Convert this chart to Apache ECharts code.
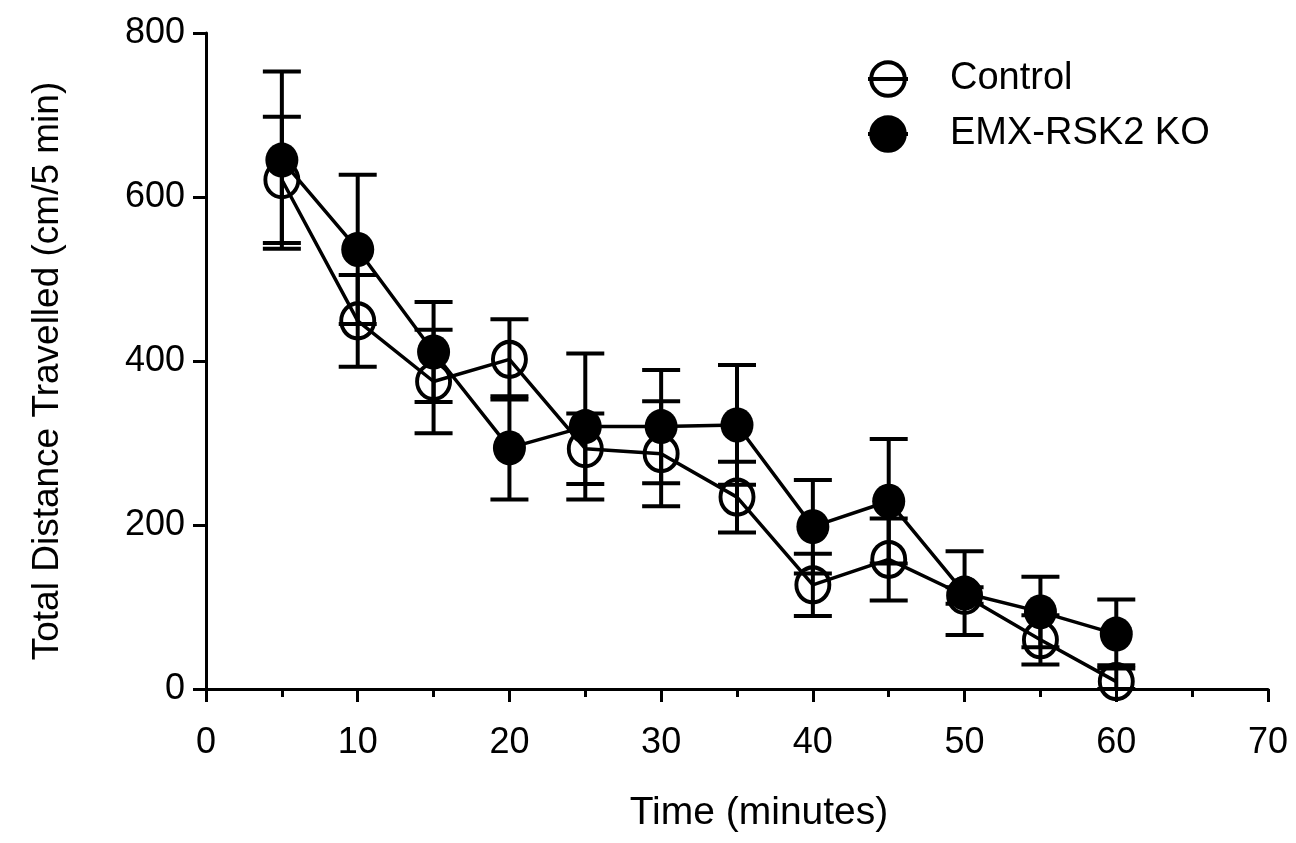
<!DOCTYPE html>
<html>
<head>
<meta charset="utf-8">
<script src="https://cdn.jsdelivr.net/npm/echarts@6/dist/echarts.min.js"></script>
<style>
html,body{margin:0;padding:0;background:#fff;}
#chart{width:1296px;height:843px;}
</style>
</head>
<body>
<div id="chart"></div>
<script>
const time = [5, 10, 15, 20, 25, 30, 35, 40, 45, 50, 55, 60];
const controlMean = [621, 449, 375, 402, 293, 287, 234, 127, 158, 114, 60, 9];
const controlSEM  = [77, 56, 63, 49, 43, 64, 43, 38, 50, 10, 30, 20];
const koMean = [645, 536, 411, 294, 320, 320, 322, 198, 229, 117, 94, 67];
const koSEM  = [108, 91, 61, 63, 89, 69, 73, 57, 76, 51, 43, 42];
const xTicks = [0, 10, 20, 30, 40, 50, 60, 70];
const yTicks = [0, 200, 400, 600, 800];
const seriesNames = ['Control', 'EMX-RSK2 KO'];

const FONT = "'Liberation Sans', Arial, Helvetica, sans-serif";

function errData(mean, sem) {
  return time.map((t, i) => [t, mean[i], sem[i]]);
}
function renderErr(params, api) {
  const x = api.value(0), m = api.value(1), s = api.value(2);
  const top = api.coord([x, m + s]);
  const bot = api.coord([x, Math.max(m - s, yTicks[0])]);
  const half = 19;
  const st = { stroke: '#000', lineWidth: 4, fill: null };
  return {
    type: 'group',
    children: [
      { type: 'line', shape: { x1: top[0], y1: top[1], x2: bot[0], y2: bot[1] }, style: st },
      { type: 'line', shape: { x1: top[0] - half, y1: top[1], x2: top[0] + half, y2: top[1] }, style: st },
      { type: 'line', shape: { x1: bot[0] - half, y1: bot[1], x2: bot[0] + half, y2: bot[1] }, style: st }
    ]
  };
}

const chart = echarts.init(document.getElementById('chart'), null, { renderer: 'canvas' });
chart.setOption({
  animation: false,
  backgroundColor: '#fff',
  grid: { left: 206, right: 28, top: 33, bottom: 154, containLabel: false },
  legend: {
    data: seriesNames,
    orient: 'vertical',
    left: 866,
    top: 60,
    padding: 0,
    itemWidth: 40,
    itemHeight: 42,
    itemGap: 17,
    lineStyle: { width: 4, color: '#000' },
    itemStyle: { borderWidth: 4, borderColor: '#000' },
    textStyle: { fontFamily: FONT, fontSize: 38, color: '#000', padding: [0, 0, 0, 37] }
  },
  xAxis: {
    type: 'value',
    min: xTicks[0],
    max: xTicks[xTicks.length - 1],
    interval: 10,
    name: 'Time (minutes)',
    nameLocation: 'middle',
    nameGap: 105,
    nameTextStyle: { fontFamily: FONT, fontSize: 39, color: '#000', padding: [0, 0, 0, 44] },
    axisLine: { show: true, onZero: false, lineStyle: { color: '#000', width: 3 } },
    axisTick: { show: true, length: 13, lineStyle: { color: '#000', width: 3 } },
    minorTick: { show: true, splitNumber: 2, length: 8, lineStyle: { color: '#000', width: 3 } },
    axisLabel: { fontFamily: FONT, fontSize: 36, color: '#000', margin: 36 },
    splitLine: { show: false },
    minorSplitLine: { show: false }
  },
  yAxis: {
    type: 'value',
    min: yTicks[0],
    max: yTicks[yTicks.length - 1],
    interval: 200,
    name: 'Total Distance Travelled (cm/5 min)',
    nameLocation: 'middle',
    nameGap: 140,
    nameTextStyle: { fontFamily: FONT, fontSize: 37, color: '#000', padding: [0, 20, 0, 0] },
    axisLine: { show: true, lineStyle: { color: '#000', width: 3 } },
    axisTick: { show: true, length: 13, lineStyle: { color: '#000', width: 3 } },
    axisLabel: { fontFamily: FONT, fontSize: 36, color: '#000', margin: 21 },
    splitLine: { show: false }
  },
  series: [
    {
      name: 'ctrlErr', type: 'custom', renderItem: renderErr,
      data: errData(controlMean, controlSEM), z: 3, silent: true,
      encode: { x: 0, y: 1 }
    },
    {
      name: 'koErr', type: 'custom', renderItem: renderErr,
      data: errData(koMean, koSEM), z: 3, silent: true,
      encode: { x: 0, y: 1 }
    },
    {
      name: seriesNames[0], type: 'line',
      data: time.map((t, i) => [t, controlMean[i]]),
      symbol: 'circle', symbolSize: [33, 35],
      showAllSymbol: true,
      lineStyle: { color: '#000', width: 3.5 },
      itemStyle: { color: 'rgba(255,255,255,0)', borderColor: '#000', borderWidth: 4 },
      z: 4
    },
    {
      name: seriesNames[1], type: 'line',
      data: time.map((t, i) => [t, koMean[i]]),
      symbol: 'circle', symbolSize: [33, 35],
      showAllSymbol: true,
      lineStyle: { color: '#000', width: 3.5 },
      itemStyle: { color: '#000', borderColor: '#000', borderWidth: 0 },
      z: 5
    }
  ]
});
</script>
</body>
</html>
